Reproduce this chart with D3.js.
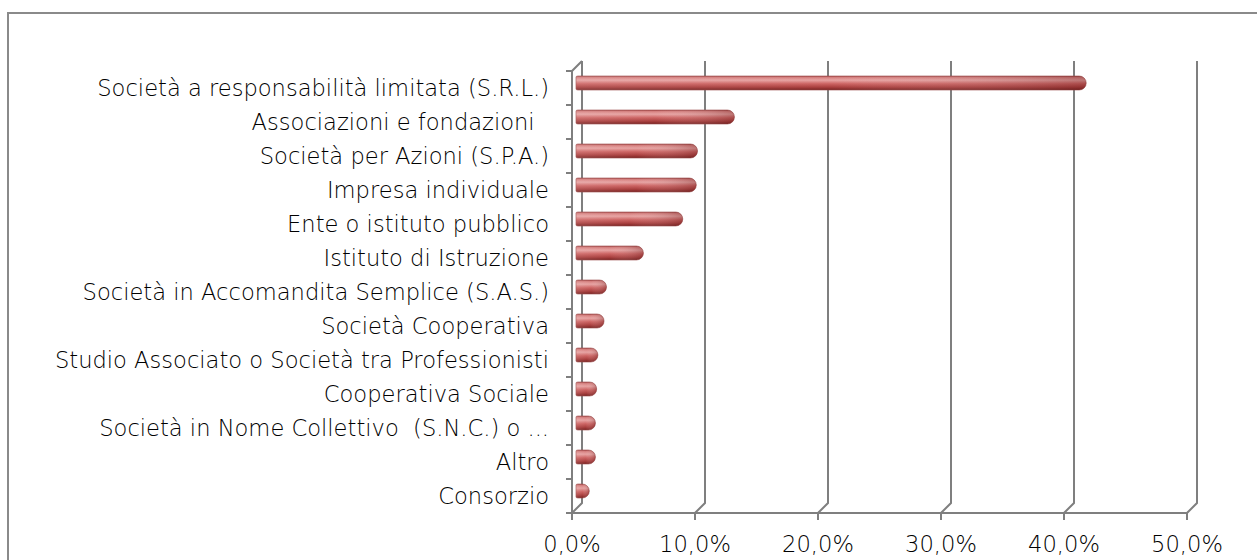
<!DOCTYPE html>
<html>
<head>
<meta charset="utf-8">
<script src="https://cdn.jsdelivr.net/npm/d3@7"></script>
<style>
	body { margin: 0; background: #ffffff; }
	text { white-space: pre; }
</style>
</head>
<body>
<div id="chart"></div>
<script>
// categories, top to bottom
var categories = [
	"Società a responsabilità limitata (S.R.L.)",
	"Associazioni e fondazioni  ",
	"Società per Azioni (S.P.A.)",
	"Impresa individuale",
	"Ente o istituto pubblico",
	"Istituto di Istruzione",
	"Società in Accomandita Semplice (S.A.S.)",
	"Società Cooperativa",
	"Studio Associato o Società tra Professionisti",
	"Cooperativa Sociale",
	"Società in Nome Collettivo  (S.N.C.) o ...",
	"Altro",
	"Consorzio"
];

// share of respondents
var shares = [0.414, 0.128, 0.098, 0.097, 0.086, 0.054, 0.024, 0.022, 0.017, 0.016, 0.015, 0.015, 0.010];

var tickValues = [0, 0.1, 0.2, 0.3, 0.4, 0.5];
var tickLabels = ["0,0%", "10,0%", "20,0%", "30,0%", "40,0%", "50,0%"];

var FONT = "'DejaVu Sans', sans-serif";
var width = 1257, height = 560;

// 3d depth offset of the back wall
var depthX = 10, depthY = -10;

var svg = d3.select("#chart").append("svg")
	.attr("width", width)
	.attr("height", height);

svg.append("rect")
	.attr("width", width)
	.attr("height", height)
	.attr("fill", "#ffffff");

// outer frame, runs off the right and bottom edges
svg.append("rect")
	.attr("x", 8)
	.attr("y", 13)
	.attr("width", width + 20)
	.attr("height", height + 20)
	.attr("fill", "none")
	.attr("stroke", "#8a8a8a")
	.attr("stroke-width", 2);

var x = d3.scaleLinear().domain([0, 0.5]).range([572, 1187]);
var y = d3.scaleBand().domain(categories).range([71, 513]).padding(0);

var gridColor = "#7f7f7f";
var floorY = y.range()[1];
var topY = y.range()[0];

// gradients for the cylinders
var defs = svg.append("defs");

var vGrad = defs.append("linearGradient")
	.attr("id", "barShade")
	.attr("x1", 0).attr("y1", 0)
	.attr("x2", 0).attr("y2", 1);
[
	[0, "#a84a49"],
	[0.12, "#d98584"],
	[0.3, "#e7a3a2"],
	[0.55, "#cd6463"],
	[0.8, "#a93f3e"],
	[1, "#782322"]
].forEach(function (s) {
	vGrad.append("stop").attr("offset", s[0]).attr("stop-color", s[1]);
});

var hGrad = defs.append("linearGradient")
	.attr("id", "barDarken")
	.attr("x1", 0).attr("y1", 0)
	.attr("x2", 1).attr("y2", 0);
[
	[0, "#ffffff", 0.1],
	[0.5, "#ffffff", 0],
	[1, "#5a0f0f", 0.3]
].forEach(function (s) {
	hGrad.append("stop")
		.attr("offset", s[0])
		.attr("stop-color", s[1])
		.attr("stop-opacity", s[2]);
});

// back wall gridlines with the little diagonal to the floor
var gGrid = svg.append("g")
	.attr("fill", "none")
	.attr("stroke", gridColor)
	.attr("stroke-width", 2);

tickValues.forEach(function (t) {
	var fx = x(t);
	var pts = [
		[fx + depthX, topY + depthY],
		[fx + depthX, floorY + depthY],
		[fx, floorY],
		[fx, floorY + 7]
	];
	gGrid.append("path").attr("d", d3.line()(pts));
});

// floor front edge
gGrid.append("line")
	.attr("x1", x(0)).attr("x2", x(0.5))
	.attr("y1", floorY).attr("y2", floorY);

// left axis: front edge, top diagonal and category ticks
gGrid.append("path")
	.attr("d", d3.line()([
		[x(0) + depthX, topY + depthY],
		[x(0), topY],
		[x(0), floorY]
	]));

var boundaries = categories.map(function (c) { return y(c); }).concat([floorY]);
boundaries.forEach(function (b) {
	gGrid.append("line")
		.attr("x1", x(0) - 6).attr("x2", x(0))
		.attr("y1", b).attr("y2", b);
});

// cylinders sit halfway into the depth
var barH = 14;
var barPath = function (x0, x1, yc) {
	var r = barH / 2;
	var top = yc - r, bottom = yc + r;
	var right = Math.max(x1, x0 + r);
	return "M" + x0 + "," + (top + 1) +
		"Q" + x0 + "," + top + " " + (x0 + 2) + "," + top +
		"L" + (right - r) + "," + top +
		"A" + r + "," + r + " 0 0 1 " + (right - r) + "," + bottom +
		"L" + (x0 + 2) + "," + bottom +
		"Q" + x0 + "," + bottom + " " + x0 + "," + (bottom - 1) + "Z";
};

var gBars = svg.append("g");
categories.forEach(function (c, i) {
	var yc = y(c) + y.bandwidth() / 2 + depthY / 2;
	var x0 = x(0) + depthX / 2 - 1;
	var x1 = x(shares[i]) + depthX / 2;
	var d = barPath(x0, x1, yc);
	gBars.append("path")
		.attr("d", d)
		.attr("fill", "url(#barShade)")
		.attr("stroke", "#9c4a49")
		.attr("stroke-width", 0.6);
	gBars.append("path")
		.attr("d", d)
		.attr("fill", "url(#barDarken)");
});

// category labels
var gLabels = svg.append("g")
	.attr("font-family", FONT)
	.attr("font-size", "22.6px")
	.attr("font-weight", 200)
	.attr("fill", "#000000");

categories.forEach(function (c) {
	gLabels.append("text")
		.attr("x", 549)
		.attr("y", y(c) + y.bandwidth() / 2)
		.attr("dy", "0.36em")
		.attr("text-anchor", "end")
		.text(c);
});

// value axis labels
tickValues.forEach(function (t, i) {
	gLabels.append("text")
		.attr("x", x(t))
		.attr("y", 552)
		.attr("text-anchor", "middle")
		.text(tickLabels[i]);
});
</script>
</body>
</html>
